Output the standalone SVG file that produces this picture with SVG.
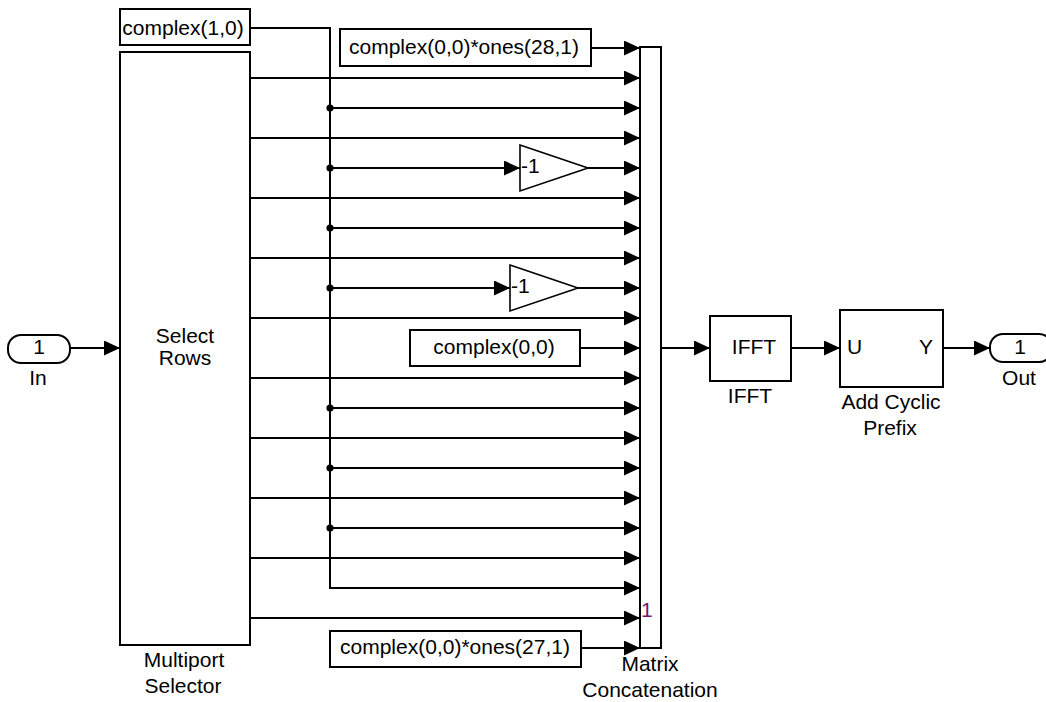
<svg xmlns="http://www.w3.org/2000/svg" width="1046" height="702" viewBox="0 0 1046 702">
<style>
text{font-family:"Liberation Sans",Arial,sans-serif;font-size:21px;fill:#000}
.m{text-anchor:middle}
.blk{fill:#fff;stroke:#000;stroke-width:2}
.w{fill:none;stroke:#000;stroke-width:2}
.g{fill:#fff;stroke:#000;stroke-width:1.6}
.dot{fill:#000}
</style>
<defs>
<marker id="ar" markerUnits="userSpaceOnUse" markerWidth="17" markerHeight="16" refX="16" refY="7.5" orient="auto">
<path d="M0,0 L16,7.5 L0,15 z" fill="#000"/>
</marker>
</defs>
<rect width="1046" height="702" fill="#fff"/>

<g id="connectors">
<path class="w" d="M70,348 H120" marker-end="url(#ar)"/>
<path class="w" d="M591,48 H640" marker-end="url(#ar)"/>
<path class="w" d="M250,78 H640" marker-end="url(#ar)"/>
<path class="w" d="M250,138 H640" marker-end="url(#ar)"/>
<path class="w" d="M250,198 H640" marker-end="url(#ar)"/>
<path class="w" d="M250,258 H640" marker-end="url(#ar)"/>
<path class="w" d="M250,318 H640" marker-end="url(#ar)"/>
<path class="w" d="M250,378 H640" marker-end="url(#ar)"/>
<path class="w" d="M250,438 H640" marker-end="url(#ar)"/>
<path class="w" d="M250,498 H640" marker-end="url(#ar)"/>
<path class="w" d="M250,558 H640" marker-end="url(#ar)"/>
<path class="w" d="M250,618 H640" marker-end="url(#ar)"/>
<path class="w" d="M250,28 H330 V588 H640" marker-end="url(#ar)"/>
<path class="w" d="M330,108 H640" marker-end="url(#ar)"/>
<path class="w" d="M330,168 H520" marker-end="url(#ar)"/>
<path class="w" d="M588,168 H640" marker-end="url(#ar)"/>
<path class="w" d="M330,228 H640" marker-end="url(#ar)"/>
<path class="w" d="M330,288 H510" marker-end="url(#ar)"/>
<path class="w" d="M578,288 H640" marker-end="url(#ar)"/>
<path class="w" d="M580,348 H640" marker-end="url(#ar)"/>
<path class="w" d="M330,408 H640" marker-end="url(#ar)"/>
<path class="w" d="M330,468 H640" marker-end="url(#ar)"/>
<path class="w" d="M330,528 H640" marker-end="url(#ar)"/>
<path class="w" d="M581,648 H640" marker-end="url(#ar)"/>
<path class="w" d="M661,348 H710" marker-end="url(#ar)"/>
<path class="w" d="M791,348 H840" marker-end="url(#ar)"/>
<path class="w" d="M943,348 H990" marker-end="url(#ar)"/>
<circle class="dot" cx="330" cy="108" r="3.6"/>
<circle class="dot" cx="330" cy="168" r="3.6"/>
<circle class="dot" cx="330" cy="228" r="3.6"/>
<circle class="dot" cx="330" cy="288" r="3.6"/>
<circle class="dot" cx="330" cy="408" r="3.6"/>
<circle class="dot" cx="330" cy="468" r="3.6"/>
<circle class="dot" cx="330" cy="528" r="3.6"/>
</g>

<g id="in1">
<rect class="blk" x="8" y="335" width="62" height="28" rx="13"/>
<text class="m" x="39" y="354">1</text>
<text class="m" x="38" y="385">In</text>
</g>

<g id="const10">
<rect class="blk" x="120" y="9" width="130" height="36"/>
<text class="m" x="183" y="35">complex(1,0)</text>
</g>

<g id="selector">
<rect class="blk" x="120" y="52" width="130" height="593"/>
<text class="m" x="185" y="343">Select</text>
<text class="m" x="185" y="365">Rows</text>
<text class="m" x="184" y="667">Multiport</text>
<text class="m" x="183" y="693">Selector</text>
</g>

<g id="const28">
<rect class="blk" x="340" y="29" width="251" height="37"/>
<text class="m" x="464" y="54">complex(0,0)*ones(28,1)</text>
</g>

<g id="gain1">
<polygon class="g" points="520,145 588,168 520,191"/>
<text x="521" y="173">-1</text>
</g>

<g id="gain2">
<polygon class="g" points="510,265 578,288 510,311"/>
<text x="511" y="293">-1</text>
</g>

<g id="const00">
<rect class="blk" x="410" y="330" width="170" height="36"/>
<text class="m" x="494" y="354">complex(0,0)</text>
</g>

<g id="const27">
<rect class="blk" x="330" y="631" width="251" height="36"/>
<text class="m" x="455" y="654">complex(0,0)*ones(27,1)</text>
</g>

<g id="concat">
<rect class="blk" x="640" y="47" width="21" height="601"/>
<text x="641" y="617" style="fill:#6a1a6a">1</text>
<text class="m" x="650" y="671">Matrix</text>
<text class="m" x="650" y="697">Concatenation</text>
</g>

<g id="ifft">
<rect class="blk" x="710" y="316" width="81" height="65"/>
<text class="m" x="754" y="354">IFFT</text>
<text class="m" x="750" y="403">IFFT</text>
</g>

<g id="acp">
<rect class="blk" x="840" y="310" width="103" height="77"/>
<text x="847" y="354">U</text>
<text x="933" y="354" style="text-anchor:end">Y</text>
<text class="m" x="891" y="409">Add Cyclic</text>
<text class="m" x="890" y="435">Prefix</text>
</g>

<g id="out1">
<rect class="blk" x="990" y="334" width="62" height="28" rx="13"/>
<text class="m" x="1020" y="354">1</text>
<text class="m" x="1019" y="385">Out</text>
</g>
</svg>
